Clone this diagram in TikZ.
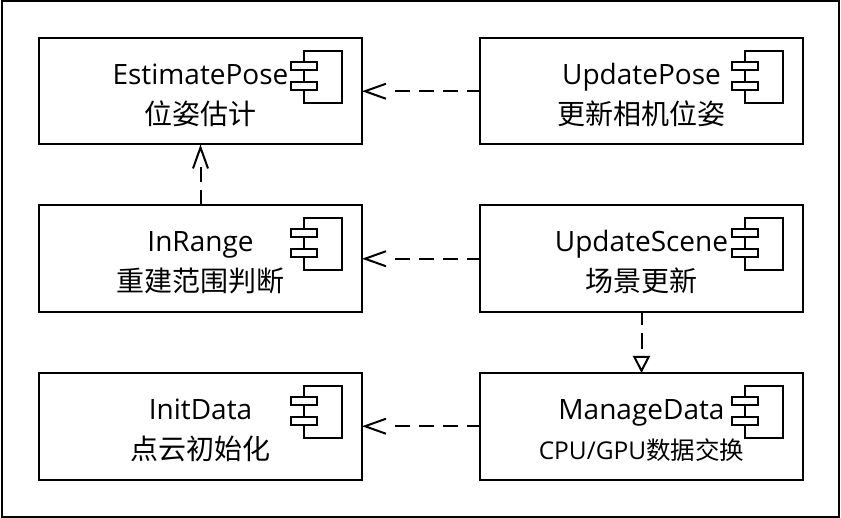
\documentclass[tikz,border=0pt]{standalone}
\usepackage{fontspec}
\usetikzlibrary{arrows.meta}
\setmainfont{Open Sans}
\newfontfamily\cjkface{Noto Sans CJK SC}
\newcommand{\firstline}[1]{\rule{0pt}{28pt}#1}
\newcommand{\boxtext}[2]{\firstline{#1}\\{\fontsize{28}{40}\cjkface\selectfont #2}}
\tikzset{
  compbox/.style={draw=black,line width=2pt,outer sep=0pt,minimum width=323pt,minimum height=106.5pt,inner sep=0pt,align=center,anchor=north west,text width=320pt,font=\fontsize{28}{40}\selectfont},
  outerframe/.style={draw=black,line width=2pt},
  iconline/.style={draw=black,line width=2pt,fill=white},
  dep/.style={draw=black,line width=2pt},
  deplong/.style={dep,dash pattern=on 13pt off 9pt on 15pt off 9pt on 15pt off 9pt on 15pt off 100pt},
  depshort/.style={dep,dash pattern=on 15pt off 8pt on 15pt off 100pt},
  dephollow/.style={dep,dash pattern=on 13pt off 8pt on 16pt off 100pt},
  openarrow/.style={-{Straight Barb[length=21pt,width=15pt,line width=2pt]}},
  hollowarrow/.style={-{Triangle[open,length=17pt,width=17pt,line width=2pt,fill=white]}},
  compicon/.pic={
    \path[iconline] (-58,13) rectangle (-20,65);
    \path[iconline] (-71,24) rectangle (-45,32);
    \path[iconline] (-71,44) rectangle (-45,52);
  }
}
\begin{document}
\begin{tikzpicture}[x=1pt,y=-1pt]
\useasboundingbox (0,0) rectangle (841,518);
\draw[outerframe] (1.5,1.5) rectangle (838.5,516.5);
\node[compbox] (est) at (39,38) {\boxtext{EstimatePose}{位姿估计}};
\node[compbox] (upd) at (480,38) {\boxtext{UpdatePose}{更新相机位姿}};
\node[compbox] (rng) at (39,205.5) {\boxtext{InRange}{重建范围判断}};
\node[compbox] (scn) at (480,205.5) {\boxtext{UpdateScene}{场景更新}};
\node[compbox] (ini) at (39,373) {\boxtext{InitData}{点云初始化}};
\node[compbox] (mng) at (480,373) {\firstline{ManageData}\\{\fontsize{24.5}{40}\selectfont CPU/GPU{\cjkface 数据交换}}};
\foreach \n in {est,upd,rng,scn,ini,mng} \pic at (\n.north east) {compicon};
\draw[deplong,openarrow] (upd) -- (est);
\draw[deplong,openarrow] (scn) -- (rng);
\draw[deplong,openarrow] (mng) -- (ini);
\draw[depshort,openarrow] (rng) -- (est);
\draw[dephollow,hollowarrow] (scn) -- (mng);
\end{tikzpicture}
\end{document}
